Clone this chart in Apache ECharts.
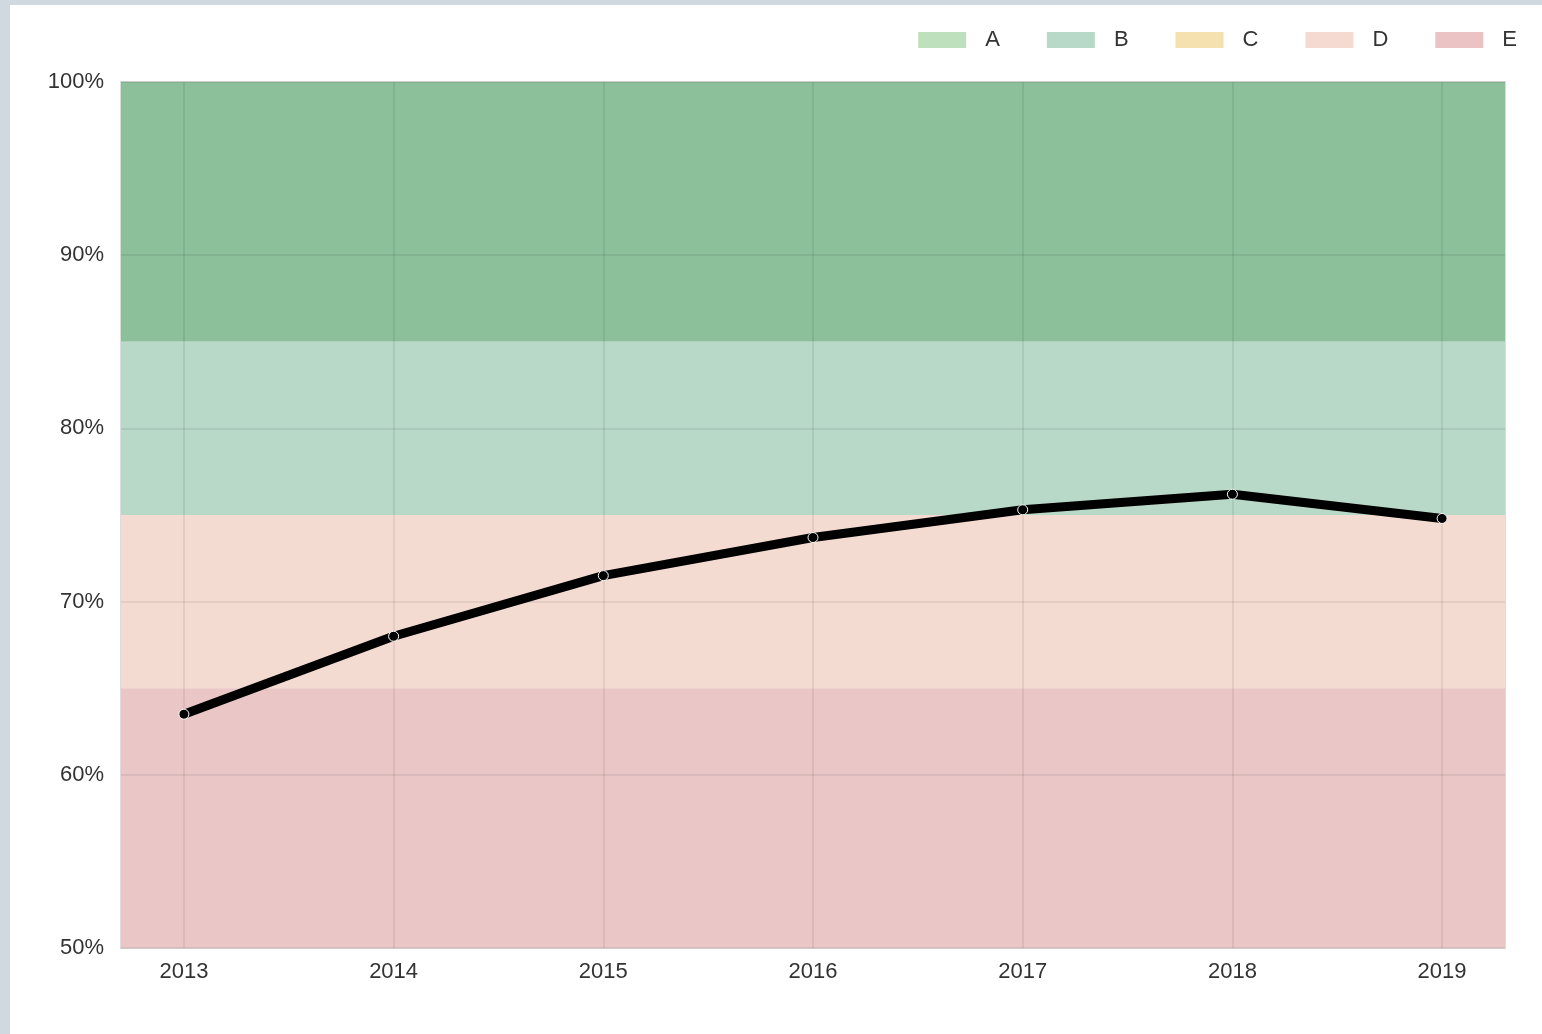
<!DOCTYPE html>
<html>
<head>
<meta charset="utf-8">
<script src="https://cdn.jsdelivr.net/npm/echarts@6/dist/echarts.min.js"></script>
<style>
  html, body { margin: 0; padding: 0; background: #d0d9e0; }
  #chart { position: absolute; left: 10px; top: 5px; width: 1532px; height: 1029px; background: #fff; }
</style>
</head>
<body>
<div id="chart"></div>
<script>
// 数据
const years = [2013, 2014, 2015, 2016, 2017, 2018, 2019];
const rates = [63.5, 68.0, 71.5, 73.7, 75.3, 76.2, 74.8];

// 背景分段
const bandNames = ['A', 'B', 'C', 'D', 'E'];
const bandLow = [85, 75, 75, 65, 50];
const bandHigh = [100, 85, 75, 75, 65];
const bandColors = ['#8cc09b', '#b8d8c8', '#f5e0b0', '#f4dbd1', '#ebc6c7'];
const legendColors = ['#bfe0bc', '#b8d8c8', '#f5e0b0', '#f5dad2', '#ebc3c5'];

const font = 'Liberation Sans, Arial, sans-serif';

const bandSeries = bandNames.map((name, i) => ({
  name,
  type: 'line',
  data: [],
  itemStyle: { color: legendColors[i] },
  markArea: {
    silent: true,
    itemStyle: { color: bandColors[i], opacity: 1 },
    data: bandHigh[i] > bandLow[i] ? [[{ yAxis: bandLow[i] }, { yAxis: bandHigh[i] }]] : []
  },
  z: 1
}));

const chart = echarts.init(document.getElementById('chart'));

const option = {
  animation: false,
  textStyle: { fontFamily: font },
  legend: {
    data: bandNames,
    right: 20,
    top: 19,
    icon: 'rect',
    itemWidth: 48,
    itemHeight: 16,
    itemGap: 47,
    textStyle: { fontSize: 22, color: '#333', fontFamily: font, padding: [0, 0, 0, 14] }
  },
  grid: {
    left: 111,
    right: 37,
    top: 77,
    bottom: 86,
    show: true,
    borderColor: '#dcdcdc',
    borderWidth: 2,
    backgroundColor: 'transparent'
  },
  xAxis: {
    type: 'value',
    min: 2012.7,
    max: 2019.3,
    z: 5,
    axisLine: { show: false },
    axisTick: { show: false, customValues: years },
    axisLabel: {
      customValues: years,
      fontSize: 22,
      color: '#333',
      margin: 13,
      formatter: v => String(v)
    },
    splitLine: { show: true, lineStyle: { color: 'rgba(0,0,0,0.065)', width: 2 } }
  },
  yAxis: {
    type: 'value',
    min: 50,
    max: 100,
    interval: 10,
    z: 5,
    axisLine: { show: false },
    axisTick: { show: false },
    axisLabel: {
      fontSize: 22,
      color: '#333',
      margin: 17,
      formatter: v => v + '%'
    },
    splitLine: { show: true, lineStyle: { color: 'rgba(0,0,0,0.065)', width: 2 } }
  },
  series: [
    ...bandSeries,
    {
      name: 'rate',
      type: 'line',
      data: years.map((y, i) => [y, rates[i]]),
      symbol: 'circle',
      symbolSize: 10,
      lineStyle: { color: '#000', width: 9 },
      itemStyle: { color: '#000', borderColor: '#fff', borderWidth: 1 },
      z: 10
    }
  ]
};

chart.setOption(option);
</script>
</body>
</html>
